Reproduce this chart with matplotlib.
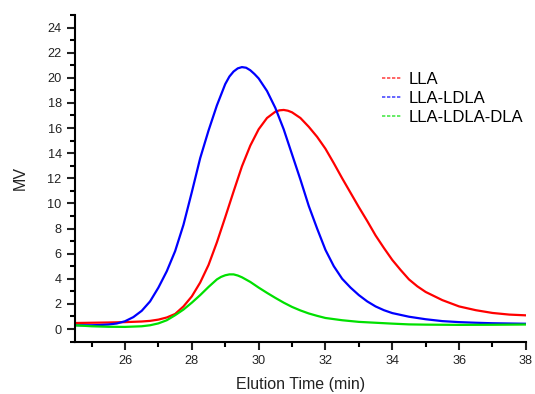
import matplotlib
matplotlib.use("Agg")
import matplotlib.pyplot as plt
from matplotlib.lines import Line2D
from matplotlib.ticker import MultipleLocator

plt.rcParams['font.family'] = ['Liberation Sans', 'DejaVu Sans']

labels = ["LLA", "LLA-LDLA", "LLA-LDLA-DLA"]
colors = ["#ff0000", "#0000ff", "#00e000"]

lla_t = [24.5, 25, 25.5, 26, 26.5, 26.75, 27, 27.25, 27.5, 27.75, 28, 28.25, 28.5, 28.75, 29,
         29.25, 29.5, 29.75, 30, 30.25, 30.5, 30.625, 30.75, 30.875, 31, 31.25, 31.5, 31.75,
         32, 32.25, 32.5, 32.75, 33, 33.25, 33.5, 33.75, 34, 34.25, 34.5, 34.75, 35, 35.5, 36,
         36.5, 37, 37.5, 38]
lla_v = [0.48, 0.5, 0.52, 0.55, 0.6, 0.65, 0.75, 0.92, 1.2, 1.8, 2.6, 3.7, 5.1, 6.9, 8.9,
         10.95, 12.95, 14.6, 15.9, 16.8, 17.3, 17.41, 17.44, 17.38, 17.25, 16.8, 16.1, 15.3,
         14.35, 13.2, 12.0, 10.85, 9.7, 8.6, 7.45, 6.45, 5.5, 4.7, 3.95, 3.4, 2.95, 2.3, 1.8,
         1.5, 1.28, 1.15, 1.09]

ldla_t = [24.5, 24.75, 25, 25.25, 25.5, 25.75, 26, 26.25, 26.5, 26.75, 27, 27.25, 27.5, 27.75,
          28, 28.25, 28.5, 28.75, 29, 29.125, 29.25, 29.375, 29.5, 29.625, 29.75, 29.875, 30,
          30.25, 30.5, 30.75, 31, 31.25, 31.5, 31.75, 32, 32.25, 32.5, 32.75, 33, 33.25, 33.5,
          33.75, 34, 34.5, 35, 35.5, 36, 36.5, 37, 37.5, 38]
ldla_v = [0.3, 0.3, 0.3, 0.32, 0.36, 0.44, 0.62, 0.95, 1.45, 2.2, 3.3, 4.6, 6.2, 8.3,
          10.9, 13.6, 15.8, 17.8, 19.5, 20.1, 20.5, 20.75, 20.85, 20.8, 20.6, 20.3, 19.95,
          18.95, 17.6, 15.9, 13.9, 11.9, 9.8, 8.0, 6.3, 5.0, 4.0, 3.3, 2.7, 2.2, 1.8,
          1.5, 1.27, 0.98, 0.78, 0.63, 0.55, 0.5, 0.46, 0.44, 0.42]

dla_t = [24.5, 25, 25.5, 26, 26.5, 26.75, 27, 27.25, 27.5, 27.75, 28, 28.25, 28.5, 28.75,
         28.875, 29, 29.125, 29.25, 29.375, 29.5, 29.75, 30, 30.25, 30.5, 30.75, 31, 31.25,
         31.5, 31.75, 32, 32.5, 33, 33.5, 34, 34.5, 35, 36, 37, 38]
dla_v = [0.3, 0.22, 0.18, 0.17, 0.22, 0.3, 0.45, 0.7, 1.1, 1.55, 2.1, 2.7, 3.35, 3.95,
         4.15, 4.28, 4.35, 4.35, 4.26, 4.12, 3.75, 3.3, 2.88, 2.48, 2.1, 1.76, 1.48,
         1.24, 1.05, 0.88, 0.7, 0.57, 0.5, 0.43, 0.37, 0.35, 0.33, 0.34, 0.36]

fig = plt.figure(figsize=(5.35, 3.94), dpi=100)
ax = fig.add_axes([0.140, 0.133, 0.843, 0.829])

series = [(lla_t, lla_v), (ldla_t, ldla_v), (dla_t, dla_v)]
for (t, v), c in zip(series, colors):
    ax.plot(t, v, color=c, lw=1.6, solid_joinstyle="round", solid_capstyle="round")

ax.set_xlim(24.5, 38)
ax.set_ylim(-1, 25)
ax.xaxis.set_minor_locator(MultipleLocator(1))
ax.yaxis.set_minor_locator(MultipleLocator(1))
ax.set_xticks(range(26, 39, 2))
ax.set_yticks(range(0, 25, 2))

for s in ["top", "right"]:
    ax.spines[s].set_visible(False)
for s in ["left", "bottom"]:
    ax.spines[s].set_linewidth(1.5)

ax.tick_params(which="major", direction="out", length=6, width=1.5, labelsize=9.2, colors="#222222")
ax.tick_params(which="minor", direction="out", length=3.5, width=1.5)

ax.set_xlabel("Elution Time (min)", fontsize=11.5, labelpad=7, color="#222222")
ax.set_ylabel("MV", fontsize=11.5, labelpad=14, color="#222222")

handles = [Line2D([0], [0], color=c, lw=1.2, ls=(0, (2, 1)), alpha=0.7) for c in colors]
ax.legend(handles, labels, loc="upper left", bbox_to_anchor=(0.68, 0.826), frameon=False,
          fontsize=12, handlelength=1.2, handletextpad=0.4, labelspacing=0.25,
          borderaxespad=0, borderpad=0)

fig.savefig("out.png", dpi=100)
